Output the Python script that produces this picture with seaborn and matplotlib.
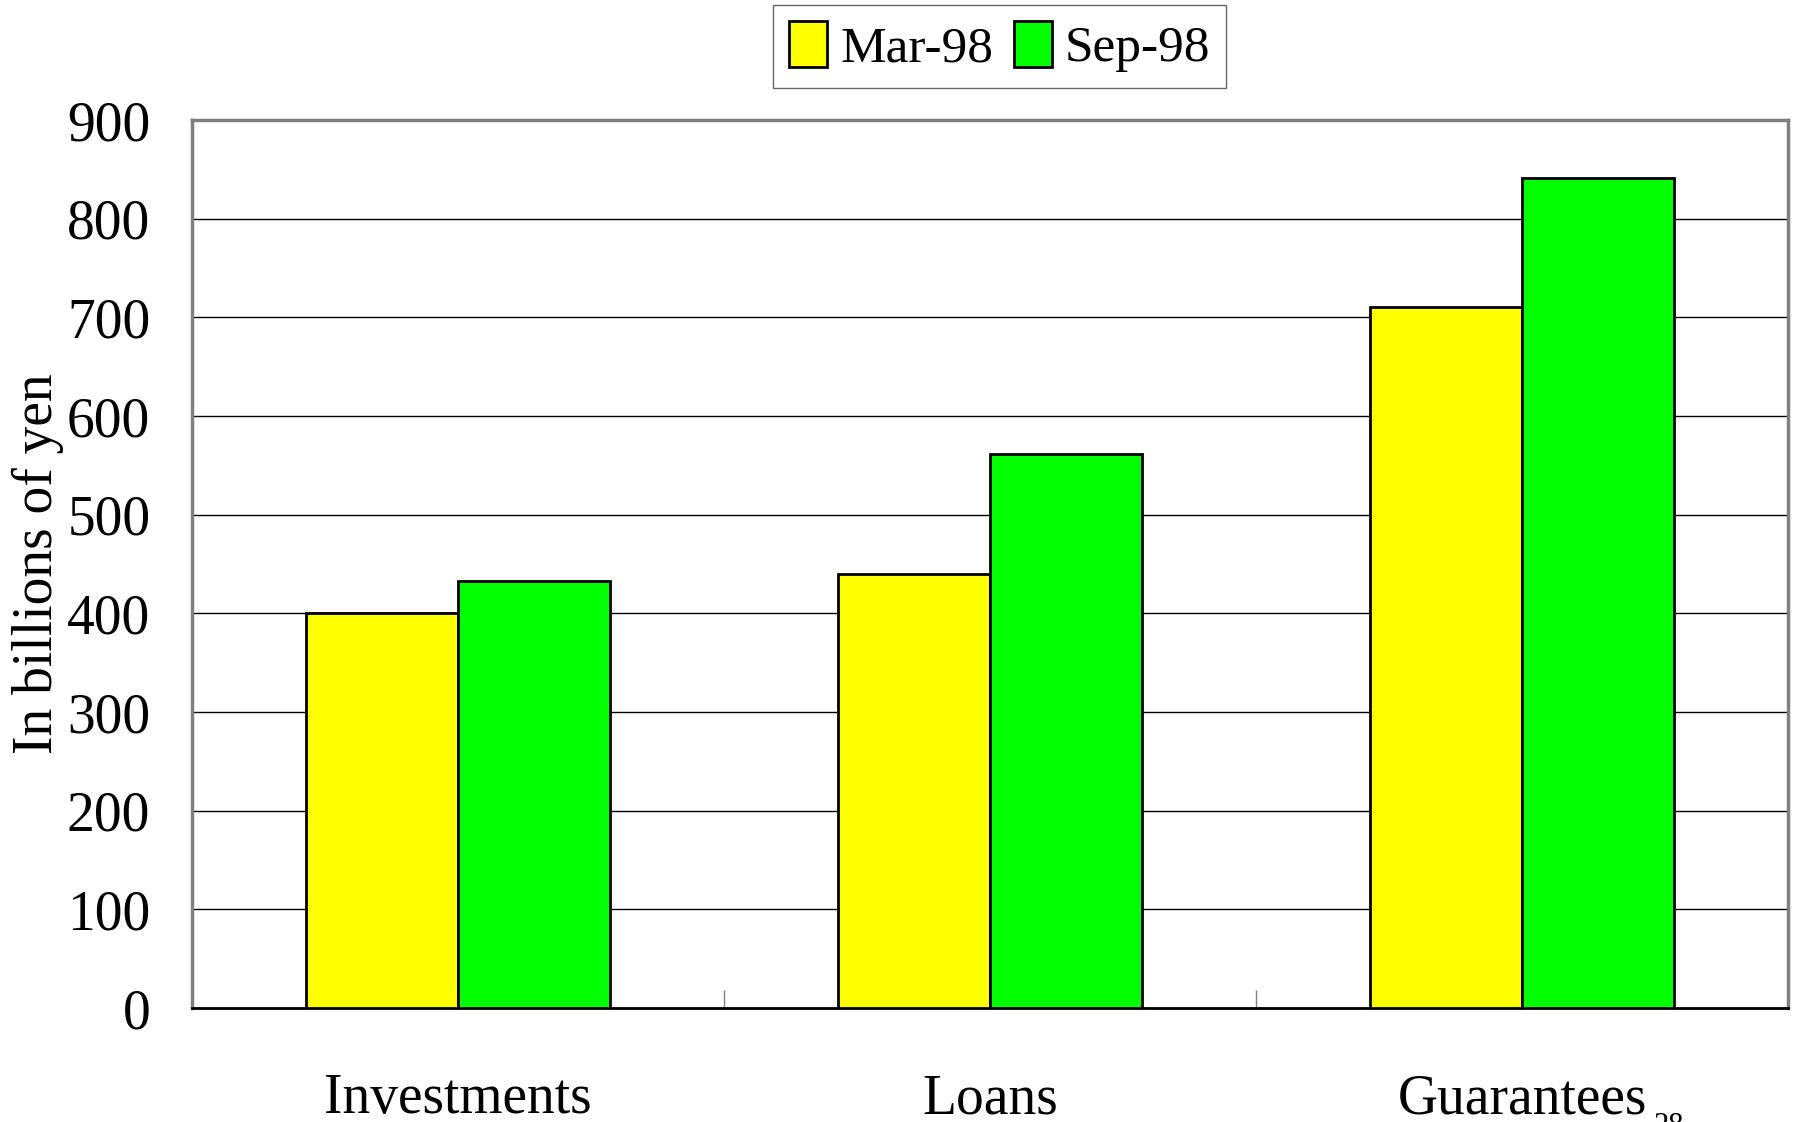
import matplotlib
matplotlib.use("Agg")
import matplotlib.pyplot as plt
import seaborn as sns
import pandas as pd

# values (billions of yen)
categories = ["Investments", "Loans", "Guarantees"]
periods = ["Mar-98", "Sep-98"]
mar_98 = [400, 440, 711]
sep_98 = [433, 562, 841]
yticks = [0, 100, 200, 300, 400, 500, 600, 700, 800, 900]

df = pd.DataFrame({
    "category": categories * 2,
    "period": [periods[0]] * 3 + [periods[1]] * 3,
    "value": mar_98 + sep_98,
})

sns.set_theme(style="white")
plt.rcParams["font.family"] = ["Liberation Serif", "DejaVu Serif"]
plt.rcParams["text.color"] = "black"
plt.rcParams["axes.labelcolor"] = "black"
plt.rcParams["xtick.color"] = "black"
plt.rcParams["ytick.color"] = "black"

fig = plt.figure(figsize=(17.93, 11.22), dpi=100)
ax = fig.add_axes([0.1071, 0.1016, 0.8901, 0.7914])

sns.barplot(data=df, x="category", y="value", hue="period",
            palette=["#FFFF00", "#00FF00"], width=0.572, gap=0,
            edgecolor="black", linewidth=2, saturation=1, ax=ax, zorder=3)

ax.set_ylim(0, 900)
ax.set_xlim(-0.5, 2.5)
ax.set_yticks(yticks)
ax.set_yticklabels([str(t) for t in yticks], fontsize=40)
ax.yaxis.grid(True, color="black", linewidth=1)
ax.set_axisbelow(True)
ax.set_xlabel("")
ax.set_ylabel("In billions of yen", fontsize=40, labelpad=2)

ax.tick_params(axis="y", length=0, pad=30)
ax.tick_params(axis="x", which="major", length=0, pad=47, labelsize=40)
ax.set_xticks([0.5, 1.5], minor=True)
ax.tick_params(axis="x", which="minor", bottom=True, direction="in",
               length=13, width=1, color="gray")

for side in ["left", "top", "right"]:
    ax.spines[side].set_color("#808080")
    ax.spines[side].set_linewidth(2.5)
ax.spines["bottom"].set_color("black")
ax.spines["bottom"].set_linewidth(2)

leg = ax.legend(loc="upper center", bbox_to_anchor=(0.506, 1.158),
                ncol=2, fontsize=37, frameon=True, fancybox=False,
                handlelength=0.75, handleheight=1.0, handletextpad=0.25,
                columnspacing=0.4, borderpad=0.3)
leg.get_frame().set_edgecolor("#404040")
leg.get_frame().set_linewidth(1)
for h in leg.legend_handles:
    h.set_edgecolor("black")
    h.set_linewidth(2)

# page number, cut off at the bottom edge
fig.text(0.931, 1 - 1112 / 1122, "28", fontsize=22, va="top", ha="center")

fig.savefig("out.png", dpi=100)
